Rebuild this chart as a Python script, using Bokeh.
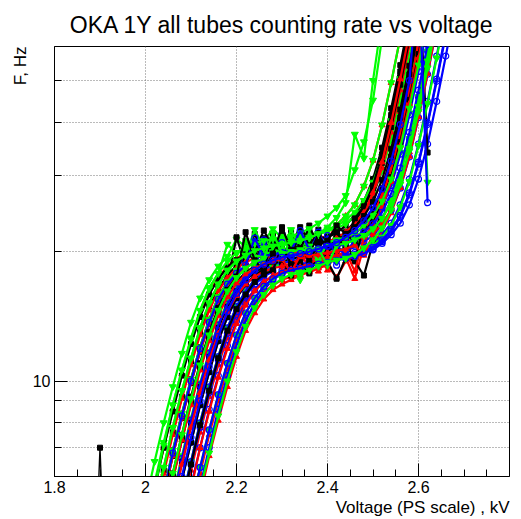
from bokeh.plotting import figure
from bokeh.models import Range1d, FixedTicker, SingleIntervalTicker, CustomJSTickFormatter, Title
from bokeh.embed import file_html
from bokeh.resources import INLINE

TITLE = "OKA 1Y all tubes counting rate vs voltage"
X_LABEL = "Voltage (PS scale) , kV"
Y_LABEL = "F, Hz"

# HV scan points, kV
V_GRID = [1.98, 2.00, 2.02, 2.04, 2.06, 2.08, 2.10, 2.12, 2.14, 2.16, 2.18, 2.20,
          2.22, 2.24, 2.26, 2.28, 2.30, 2.32, 2.34, 2.36, 2.38, 2.40, 2.42, 2.44,
          2.46, 2.48, 2.50, 2.52, 2.54, 2.56, 2.58, 2.60, 2.62, 2.64, 2.66, 2.68, 2.70]

# counting rate (Hz) of each tube, starting at its first plotted scan voltage
T01_START = 2.02
T01_RATE = [4.9, 6.2, 7.6, 9.2, 11.1, 13.0, 14.9, 16.4, 17.6, 18.6, 19.2, 22.0, 19.5, 20.1, 20.3, 22.3, 19.0, 22.6, 20.5, 21.6, 22.1, 23.0, 24.3, 26.2, 29.5, 34.9, 43.1, 54.3, 69.7]
T02_START = 2.02
T02_RATE = [5.7, 7.0, 8.6, 10.4, 12.3, 14.3, 16.1, 17.4, 18.5, 19.3, 19.8, 20.2, 20.5, 20.7, 21.8, 21.2, 21.4, 21.6, 21.9, 21.3, 23.1, 24.2, 25.7, 28.4, 32.6, 39.4, 49.4, 63.0]
T03_START = 2.00
T03_RATE = [5.2, 6.5, 8.0, 9.7, 11.6, 13.7, 15.6, 17.2, 18.5, 19.5, 21.4, 20.5, 20.9, 21.1, 22.6, 21.5, 21.5, 21.7, 21.9, 22.1, 22.5, 22.9, 23.7, 24.7, 26.3, 29.0, 33.3, 40.3, 50.5, 64.5]
T04_START = 2.04
T04_RATE = [4.8, 6.0, 7.4, 9.0, 10.8, 12.7, 14.5, 16.0, 17.2, 20.8, 18.7, 19.1, 19.4, 22.0, 19.8, 20.0, 20.2, 20.4, 20.6, 20.9, 21.3, 22.0, 23.0, 24.5, 27.0, 31.0, 37.5, 47.0, 61.0, 78.0]
T05_START = 2.04
T05_RATE = [5.4, 6.7, 8.2, 9.9, 11.7, 13.6, 15.3, 16.6, 17.7, 21.0, 18.6, 21.5, 19.0, 22.3, 19.4, 21.9, 20.1, 22.5, 19.6, 22.4, 21.0, 23.0, 24.5, 27.0, 31.0, 37.5, 47.0, 61.0, 78.0]
T06_START = 2.08
T06_RATE = [5.0, 6.2, 7.6, 9.2, 10.9, 12.6, 14.2, 15.4, 16.3, 17.0, 17.5, 17.8, 18.0, 18.3, 18.7, 19.0, 19.2, 19.5, 19.4, 17.3, 20.6, 23.7, 26.6, 31.5, 38.9, 49.0, 62.9]
T07_START = 2.02
T07_RATE = [5.8, 7.2, 8.8, 10.6, 12.6, 14.6, 16.5, 17.8, 20.8, 19.8, 20.3, 20.7, 21.0, 21.2, 21.4, 21.5, 21.6, 20.2, 22.0, 22.3, 22.7, 23.2, 24.1, 25.5, 27.5, 30.9, 36.5, 45.2, 57.0, 73.1]
T08_START = 2.06
T08_RATE = [4.7, 5.9, 7.2, 8.8, 10.5, 12.4, 14.1, 15.6, 16.8, 17.6, 18.2, 18.6, 18.9, 19.1, 20.9, 19.5, 19.7, 19.9, 18.6, 20.4, 20.8, 21.5, 22.4, 23.9, 26.3, 30.2, 36.6, 45.8, 58.5, 76.0]
T09_START = 2.04
T09_RATE = [4.8, 5.9, 7.3, 8.9, 10.7, 12.6, 14.4, 15.8, 17.0, 17.9, 18.5, 21.2, 19.2, 19.4, 19.7, 20.1, 23.0, 20.5, 19.6, 21.4, 22.2, 23.5, 25.3, 28.5, 33.7, 41.6, 52.5, 67.3]
T10_START = 2.10
T10_RATE = [4.9, 6.1, 7.5, 9.0, 10.7, 12.4, 13.9, 15.1, 16.1, 16.7, 17.2, 17.5, 17.7, 17.9, 18.3, 18.6, 17.4, 19.0, 19.4, 20.0, 20.9, 22.3, 24.6, 28.2, 34.1, 42.8, 54.6, 71.0]
T11_START = 2.06
T11_RATE = [5.4, 6.7, 8.2, 9.9, 11.7, 13.6, 15.3, 16.6, 17.7, 18.4, 18.9, 19.3, 21.7, 19.7, 19.9, 20.1, 20.3, 20.5, 20.7, 21.1, 21.6, 22.4, 23.7, 25.6, 28.8, 34.0, 42.0, 85.0, 29.0]
T12_START = 2.08
T12_RATE = [4.6, 5.7, 7.0, 8.6, 10.3, 12.1, 13.8, 15.2, 16.3, 17.2, 19.9, 18.1, 18.4, 18.6, 18.8, 19.0, 19.2, 19.4, 19.6, 19.9, 20.2, 20.9, 21.9, 23.3, 25.7, 29.5, 35.6, 44.7, 57.0, 74.0]
T13_START = 2.06
T13_RATE = [5.3, 6.5, 8.0, 9.7, 11.4, 13.3, 14.9, 16.2, 17.2, 17.9, 18.4, 18.8, 19.0, 19.2, 19.5, 19.8, 20.0, 19.0, 17.3, 19.3, 19.0, 17.6, 21.0, 25.5, 31.0, 39.0, 50.0, 66.0]
T14_START = 2.12
T14_RATE = [5.4, 6.7, 8.1, 9.7, 11.4, 13.1, 14.4, 15.5, 16.3, 16.8, 17.2, 17.6, 18.0, 18.4, 18.8, 19.2, 19.8, 20.7, 22.1, 24.3, 27.9, 33.8, 42.3, 54.0, 70.2]
T15_START = 2.08
T15_RATE = [5.3, 6.5, 8.0, 9.7, 11.4, 13.3, 14.9, 16.2, 17.2, 17.9, 18.4, 18.8, 19.0, 17.2, 19.4, 19.7, 19.9, 20.1, 20.4, 20.8, 21.5, 22.4, 23.9, 26.3, 30.2, 36.6, 45.8, 58.5, 76.0]
T16_START = 2.10
T16_RATE = [4.6, 5.7, 7.0, 8.6, 10.3, 12.1, 13.8, 15.2, 16.3, 17.2, 17.8, 18.1, 18.4, 18.6, 18.8, 19.0, 19.2, 19.4, 19.6, 19.9, 20.2, 20.9, 21.9, 23.3, 25.7, 29.5, 35.6, 44.7, 57.0, 74.0]
T17_START = 2.04
T17_RATE = [5.5, 6.9, 8.4, 10.1, 12.0, 13.9, 15.7, 17.0, 21.6, 18.6, 21.0, 19.7, 22.0, 20.2, 20.4, 20.5, 20.7, 20.9, 21.1, 21.4, 21.8, 22.6, 23.6, 25.1, 27.7, 31.8, 38.4, 48.2, 90.0, 34.0]
T18_START = 2.02
T18_RATE = [4.8, 6.1, 7.5, 9.1, 10.9, 12.8, 14.6, 16.2, 17.4, 18.3, 18.9, 19.3, 19.6, 19.8, 20.0, 20.2, 20.4, 20.6, 18.0, 21.1, 21.5, 22.2, 23.2, 24.7, 27.3, 31.3, 37.9, 47.5, 60.6, 78.8]
T19_START = 2.10
T19_RATE = [5.1, 6.3, 7.7, 9.3, 11.0, 12.8, 14.4, 15.6, 16.6, 17.3, 17.8, 18.1, 18.3, 18.5, 18.7, 19.0, 19.2, 19.4, 19.6, 20.0, 20.7, 21.6, 23.0, 25.4, 29.1, 35.3, 44.2, 56.4, 73.3]
T20_START = 2.08
T20_RATE = [5.3, 6.5, 8.0, 9.7, 11.4, 13.3, 14.9, 16.2, 17.2, 17.9, 21.4, 18.8, 19.0, 19.2, 19.4, 19.6, 19.8, 20.0, 20.2, 20.6, 21.1, 21.8, 23.1, 25.0, 28.1, 33.2, 41.0, 51.7, 66.3]
T21_START = 2.02
T21_RATE = [5.6, 7.0, 8.5, 10.3, 12.2, 14.1, 15.9, 17.3, 18.4, 19.1, 19.7, 20.0, 22.4, 20.5, 19.3, 20.8, 22.8, 21.2, 21.4, 21.7, 22.2, 20.6, 23.9, 25.5, 28.1, 32.2, 39.0, 48.9, 62.4]
T22_START = 2.04
T22_RATE = [5.4, 6.7, 8.2, 9.9, 11.7, 13.6, 15.3, 16.6, 17.7, 18.4, 18.9, 19.3, 19.5, 19.7, 19.9, 20.0, 18.2, 20.4, 20.6, 20.9, 21.3, 22.0, 23.0, 24.5, 27.0, 31.0, 37.5, 47.0, 61.0, 78.0]
T23_START = 2.02
T23_RATE = [5.0, 6.3, 7.8, 9.5, 11.3, 13.3, 15.2, 16.8, 18.1, 19.0, 19.6, 22.5, 20.4, 20.6, 19.2, 21.2, 21.4, 21.6, 21.9, 22.4, 23.1, 24.2, 25.7, 28.4, 32.6, 39.4, 49.4, 63.0]
T24_START = 2.06
T24_RATE = [5.3, 6.6, 8.1, 9.8, 11.6, 13.5, 15.1, 16.4, 17.5, 18.2, 21.3, 19.1, 19.3, 19.5, 19.7, 19.9, 22.2, 20.3, 20.5, 20.9, 21.4, 22.2, 23.5, 25.3, 28.5, 33.7, 41.6, 52.5, 67.3]
T25_START = 2.06
T25_RATE = [4.7, 5.9, 7.2, 8.8, 10.5, 12.4, 14.1, 15.6, 16.8, 17.6, 18.2, 21.6, 18.9, 17.6, 19.4, 19.8, 21.9, 20.2, 20.6, 21.1, 19.0, 23.1, 25.0, 28.1, 33.2, 41.0, 51.7, 66.3]
T26_START = 2.06
T26_RATE = [5.1, 6.4, 7.8, 9.4, 11.2, 12.9, 14.5, 15.8, 16.8, 17.5, 18.0, 18.3, 18.5, 18.8, 19.2, 19.5, 19.7, 18.1, 20.5, 21.3, 22.5, 24.3, 27.4, 32.3, 39.9, 50.4, 64.6]
T27_START = 2.04
T27_RATE = [5.5, 6.9, 8.4, 10.1, 12.0, 13.9, 15.7, 17.0, 18.1, 21.2, 19.4, 19.7, 20.0, 20.2, 22.5, 20.5, 20.6, 19.0, 21.0, 21.3, 21.6, 22.1, 23.0, 24.3, 26.2, 29.5, 34.9, 43.1, 54.3, 69.7]
T28_START = 2.10
T28_RATE = [5.1, 6.3, 7.7, 9.3, 11.0, 12.8, 14.4, 15.6, 16.6, 17.3, 17.8, 18.1, 18.3, 18.5, 18.7, 18.9, 19.1, 19.3, 19.5, 19.8, 20.3, 21.1, 22.3, 24.1, 27.1, 32.0, 39.5, 49.8, 63.9]
T29_START = 2.08
T29_RATE = [5.2, 6.4, 7.9, 9.5, 11.3, 13.1, 14.7, 15.9, 17.0, 17.7, 18.1, 20.6, 18.7, 18.9, 17.8, 19.6, 19.8, 20.1, 22.0, 21.1, 22.1, 23.5, 25.9, 29.8, 36.0, 45.1, 57.6, 74.9]
T30_START = 2.08
T30_RATE = [4.5, 5.6, 7.0, 8.5, 10.2, 11.9, 13.6, 15.0, 16.2, 17.0, 17.6, 18.0, 18.2, 18.4, 18.8, 19.2, 19.4, 19.6, 20.0, 18.0, 21.6, 23.0, 25.4, 29.1, 35.3, 44.2, 56.4, 73.3]
T31_START = 2.04
T31_RATE = [4.8, 6.1, 7.5, 9.1, 10.9, 12.8, 14.6, 16.2, 17.4, 18.3, 18.9, 19.3, 22.1, 19.8, 20.0, 20.2, 20.2, 20.3, 18.6, 20.7, 20.9, 21.3, 21.8, 22.6, 23.9, 25.9, 29.1, 34.3, 42.4, 53.5, 68.7]
T32_START = 2.04
T32_RATE = [5.5, 6.8, 8.3, 10.0, 11.9, 13.7, 15.5, 16.8, 17.8, 18.6, 21.5, 19.5, 19.7, 19.9, 20.1, 22.4, 20.2, 20.4, 20.6, 20.8, 19.5, 21.5, 22.2, 23.2, 24.7, 27.3, 31.3, 37.9, 47.5, 60.6, 78.8]
T33_START = 2.04
T33_RATE = [4.9, 6.1, 7.5, 9.2, 11.0, 13.0, 14.8, 16.3, 17.5, 22.2, 19.1, 18.0, 19.8, 22.8, 20.2, 20.5, 19.0, 20.9, 21.2, 23.0, 22.0, 22.8, 24.2, 26.1, 29.4, 34.7, 42.8, 54.1, 69.4]
T34_START = 2.04
T34_RATE = [4.7, 5.9, 7.3, 8.8, 10.6, 12.4, 14.2, 15.7, 16.9, 17.7, 18.3, 18.7, 19.0, 19.2, 17.9, 19.6, 19.6, 19.7, 19.9, 20.1, 20.3, 20.7, 19.6, 22.0, 23.2, 25.1, 28.2, 33.3, 41.2, 51.9, 66.6]
T35_START = 2.10
T35_RATE = [4.4, 5.6, 6.8, 8.3, 10.0, 11.7, 13.4, 14.8, 15.9, 16.7, 17.3, 17.7, 17.9, 18.1, 18.5, 18.9, 19.1, 19.3, 19.7, 20.4, 21.3, 22.7, 25.0, 28.7, 34.7, 43.5, 55.5, 72.2]
T36_START = 2.08
T36_RATE = [5.1, 6.4, 7.8, 9.4, 11.2, 12.9, 14.5, 15.8, 16.8, 17.5, 18.0, 21.0, 18.5, 18.7, 18.9, 19.0, 21.8, 19.3, 19.5, 19.7, 20.0, 20.5, 21.3, 22.5, 24.3, 27.4, 32.3, 39.9, 50.4, 64.6]
# two early-rising green tubes and one blue tube dropping at the last point
T37_START = 2.02
T37_RATE = [5.6, 7.1, 8.8, 10.6, 12.5, 14.6, 16.4, 17.8, 19.0, 19.9, 20.5, 20.9, 21.2, 21.4, 21.5, 21.7, 22.1, 22.6, 23.3, 24.2, 25.3, 27.0, 31.0, 36.0, 45.0, 63.0]
T38_START = 2.02
T38_RATE = [5.0, 6.3, 7.8, 9.5, 11.3, 13.3, 15.2, 16.8, 18.1, 19.0, 19.6, 20.1, 20.4, 20.6, 20.8, 21.0, 21.2, 21.5, 22.0, 22.8, 24.0, 26.0, 37.5, 33.0, 50.0, 70.0]
T39_START = 2.06
T39_RATE = [4.8, 6.0, 7.4, 9.0, 10.8, 12.7, 14.5, 16.0, 17.2, 18.1, 18.7, 19.1, 19.4, 19.6, 19.8, 20.0, 20.3, 20.6, 21.0, 21.6, 22.4, 23.6, 25.3, 28.0, 32.5, 39.5, 50.0, 90.0, 26.0]

# the short spurious scan near 1.9 kV
SPIKE_V = [1.88, 1.90, 1.92]
SPIKE_RATE = [2.0, 7.0, 2.0]

# style index: 0 black squares, 1 red triangles, 2 green triangles, 3 blue circles
TUBES = [
    (T01_START, T01_RATE, 0), (T02_START, T02_RATE, 1), (T03_START, T03_RATE, 2), (T04_START, T04_RATE, 3),
    (T05_START, T05_RATE, 0), (T06_START, T06_RATE, 1), (T07_START, T07_RATE, 2), (T08_START, T08_RATE, 3),
    (T09_START, T09_RATE, 0), (T10_START, T10_RATE, 1), (T11_START, T11_RATE, 2), (T12_START, T12_RATE, 3),
    (T13_START, T13_RATE, 0), (T14_START, T14_RATE, 1), (T15_START, T15_RATE, 2), (T16_START, T16_RATE, 3),
    (T17_START, T17_RATE, 0), (T18_START, T18_RATE, 1), (T19_START, T19_RATE, 2), (T20_START, T20_RATE, 3),
    (T21_START, T21_RATE, 0), (T22_START, T22_RATE, 1), (T23_START, T23_RATE, 2), (T24_START, T24_RATE, 3),
    (T25_START, T25_RATE, 0), (T26_START, T26_RATE, 1), (T37_START, T37_RATE, 2), (T36_START, T36_RATE, 3),
    (T29_START, T29_RATE, 0), (T30_START, T30_RATE, 1), (T27_START, T27_RATE, 2), (T32_START, T32_RATE, 3),
    (T33_START, T33_RATE, 0), (T34_START, T34_RATE, 1), (T31_START, T31_RATE, 2), (T28_START, T28_RATE, 3),
    (T38_START, T38_RATE, 2), (T35_START, T35_RATE, 2), (T39_START, T39_RATE, 3),
]

COLORS = ["#000000", "#ff0000", "#00ff00", "#0000ff"]
FONT = "Liberation Sans"

p = figure(width=521, height=519, x_range=Range1d(1.8, 2.8), y_range=Range1d(6, 60),
           y_axis_type="log", output_backend="svg", toolbar_location=None,
           min_border_left=54, min_border_right=12, min_border_top=44, min_border_bottom=43,
           title=TITLE)
p.background_fill_color = "white"
p.border_fill_color = "white"
p.outline_line_color = "black"
p.outline_line_width = 1
p.outline_line_alpha = 1

p.title.text_font = FONT
p.title.text_font_size = "23px"
p.title.text_font_style = "normal"
p.title.align = "center"
p.title.text_color = "black"
p.title.text_line_height = 0.7
p.title.standoff = 18


def add_tube(xs, ys, style, width=2.2):
    col = COLORS[style]
    p.line(xs, ys, line_color=col, line_width=width)
    if style == 0:
        p.scatter(xs, ys, marker="square", size=5, fill_color=col, line_color=col)
    elif style == 1:
        p.scatter(xs, ys, marker="triangle", size=6, fill_color=col, line_color=col)
    elif style == 2:
        p.scatter(xs, ys, marker="inverted_triangle", size=7, fill_color=col, line_color=col)
    else:
        p.scatter(xs, ys, marker="circle", size=6, fill_color=None, line_color=col, line_width=1.2)


add_tube(SPIKE_V, SPIKE_RATE, 0, width=1.4)
for start, rate, style in TUBES:
    i0 = V_GRID.index(start)
    add_tube(V_GRID[i0:i0 + len(rate)], rate, style)

# x axis
p.xaxis.ticker = SingleIntervalTicker(interval=0.2, num_minor_ticks=4)
p.xaxis.formatter = CustomJSTickFormatter(
    code="var s = tick.toFixed(1); return s.slice(-2) == '.0' ? s.slice(0, -2) : s;")
# y axis
yt = FixedTicker(ticks=[10], minor_ticks=[7, 8, 9, 20, 30, 40, 50])
p.yaxis.ticker = yt
p.ygrid.ticker = yt
p.yaxis.formatter = CustomJSTickFormatter(code="return tick.toFixed(0);")

for ax in (p.xaxis[0], p.yaxis[0]):
    ax.axis_line_color = "black"
    ax.axis_line_width = 1
    ax.major_tick_line_color = "black"
    ax.minor_tick_line_color = "black"
    ax.major_tick_in = 13
    ax.major_tick_out = 0
    ax.minor_tick_in = 7
    ax.minor_tick_out = 0
    ax.major_label_text_font = FONT
    ax.major_label_text_font_size = "16px"
    ax.major_label_text_color = "black"
    ax.major_label_standoff = 4

# axis titles, flush with the right end / top end of the axes
p.add_layout(Title(text=X_LABEL, align="right", text_font=FONT, text_font_size="17px",
                   text_font_style="normal", text_color="black", standoff=0), "below")
p.add_layout(Title(text=Y_LABEL, align="right", text_font=FONT, text_font_size="17px",
                   text_font_style="normal", text_color="black", standoff=0), "left")

for g in (p.xgrid[0], p.ygrid[0]):
    g.grid_line_color = "#777777"
    g.grid_line_dash = "1 2"
    g.grid_line_width = 1
p.ygrid.minor_grid_line_color = "#777777"
p.ygrid.minor_grid_line_dash = "1 2"
p.ygrid.minor_grid_line_width = 1

open("out.html", "w").write(file_html(p, INLINE))
